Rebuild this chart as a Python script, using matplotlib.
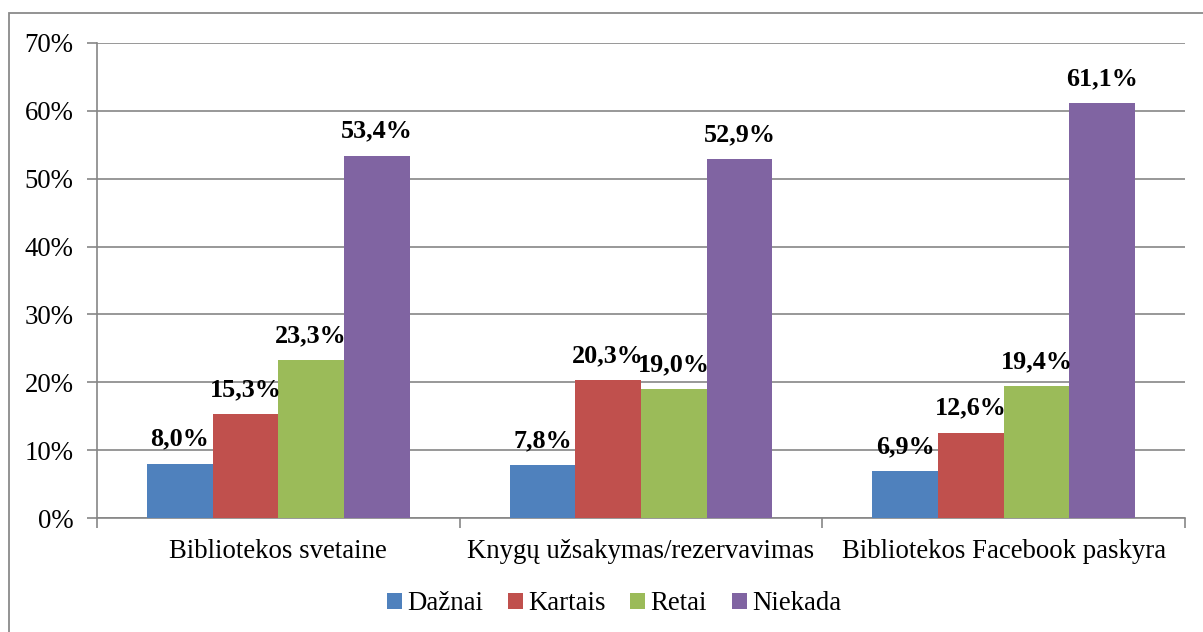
import matplotlib
matplotlib.use('Agg')
import matplotlib.pyplot as plt
from matplotlib.patches import Rectangle
from matplotlib.ticker import FuncFormatter
import numpy as np

plt.rcParams['font.family'] = ['Liberation Serif', 'DejaVu Serif']

categories = ['Bibliotekos svetaine', 'Knygų užsakymas/rezervavimas', 'Bibliotekos Facebook paskyra']
series_names = ['Dažnai', 'Kartais', 'Retai', 'Niekada']
dazn = [8.0, 7.8, 6.9]
kart = [15.3, 20.3, 12.6]
ret = [23.3, 19.0, 19.4]
niek = [53.4, 52.9, 61.1]
colors = ['#4F81BD', '#C0504D', '#9BBB59', '#8064A2']

W, H = 1203, 632
fig = plt.figure(figsize=(W / 100, H / 100), dpi=100)
ax = fig.add_axes([97 / W, 1 - 518 / H, (1185 - 97) / W, (518 - 43) / H])

grid_c = '#868686'
fs = 19.3
x = np.arange(len(categories))
width = 0.181
all_series = [dazn, kart, ret, niek]
for i, (vals, name) in enumerate(zip(all_series, series_names)):
    bars = ax.bar(x + (i - 1.5) * width, vals, width=width, color=colors[i], label=name, zorder=3)
    for rect, v in zip(bars, vals):
        ax.annotate('{:.1f}%'.format(v).replace('.', ','),
                    (rect.get_x() + rect.get_width() / 2, rect.get_height()),
                    xytext=(0, 13), textcoords='offset points',
                    ha='center', va='baseline', fontsize=18.8, fontweight='bold', zorder=4)

ax.set_xlim(-0.5, 2.5)
ax.set_ylim(0, 70)
ax.set_yticks(np.arange(0, 71, 10))
ax.yaxis.set_major_formatter(FuncFormatter(lambda v, p: '{:.0f}%'.format(v)))
ax.grid(axis='y', color=grid_c, linewidth=1.2, zorder=0)
ax.set_axisbelow(True)

ax.set_xticks([-0.5, 0.5, 1.5, 2.5])
ax.set_xticklabels([])
ax.set_xticks(x, minor=True)
ax.set_xticklabels(categories, minor=True)
ax.tick_params(axis='x', which='major', length=7, width=1.2, color=grid_c, direction='out')
ax.tick_params(axis='x', which='minor', length=0, pad=15, labelsize=fs)
ax.tick_params(axis='y', length=7, width=1.2, color=grid_c, direction='out', pad=10, labelsize=fs)

for s in ['top', 'right']:
    ax.spines[s].set_visible(False)
for s in ['left', 'bottom']:
    ax.spines[s].set_color(grid_c)
    ax.spines[s].set_linewidth(1.2)

ax.legend(loc='center', bbox_to_anchor=(614 / W, 1 - 604 / H), bbox_transform=fig.transFigure,
          ncol=4, frameon=False, fontsize=fs, handlelength=0.55, handleheight=0.55,
          handletextpad=0.2, columnspacing=0.93)

fig.patches.append(Rectangle((9 / W, -0.05), 1.1, 1 - 13 / H + 0.05, transform=fig.transFigure,
                             fill=False, edgecolor='#8a8a8a', linewidth=1.3))

fig.savefig('out.png', dpi=100)
